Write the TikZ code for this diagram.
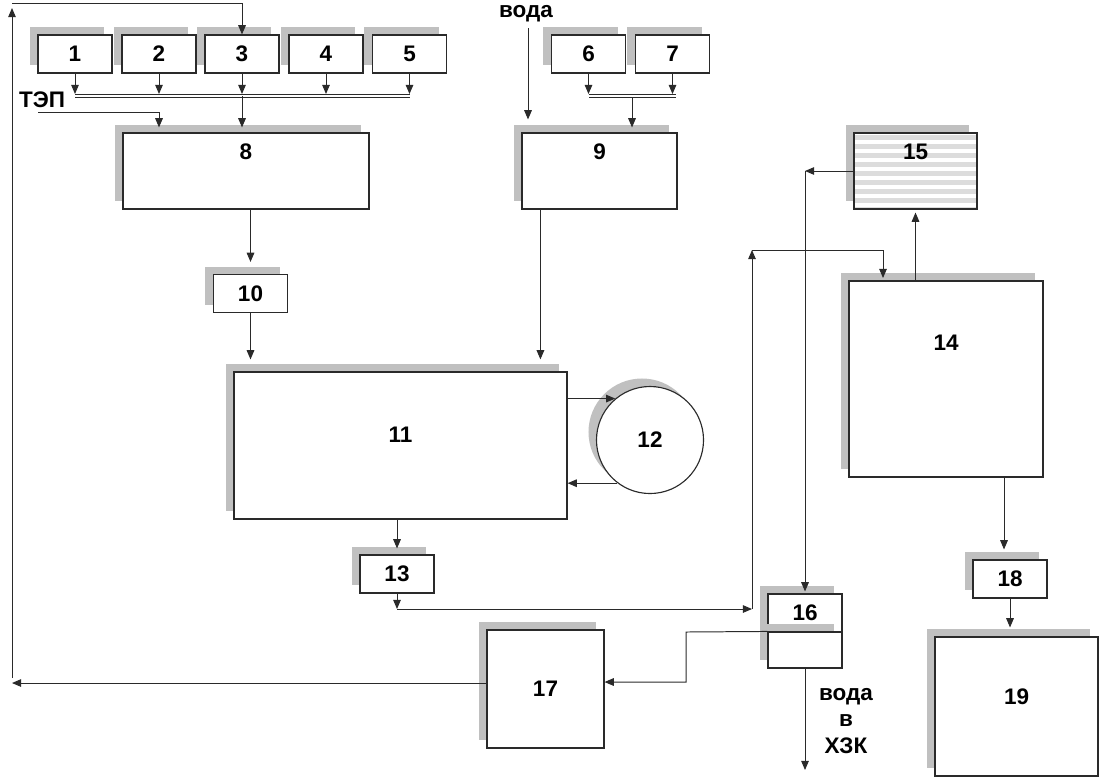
\documentclass[tikz,border=0pt]{standalone}
\usepackage{fontspec}
\setmainfont{Liberation Sans}
\usetikzlibrary{arrows.meta,shadows}

\definecolor{shadowgray}{HTML}{C0C0C0}
\definecolor{stripegray}{HTML}{DCDCDC}
\definecolor{lineclr}{HTML}{2A2A2A}

\tikzset{
  box/.style={draw=lineclr, fill=white, line width=0.8pt, inner sep=0pt,
    general shadow={fill=shadowgray, shadow xshift=-0.2cm, shadow yshift=0.2cm}},
  smallbox/.style={box, minimum width=1.85cm, minimum height=0.95cm},
  arr/.style={draw=lineclr, line width=0.7pt, -{Triangle[length=2.3mm,width=1.9mm]}},
  bus/.style={draw=lineclr, line width=0.4pt, double=white, double distance=0.05cm},
  stripes/.style={path picture={
    \foreach \k in {0,...,8}
      \fill[stripegray] ([yshift={-0.05cm-\k*0.225cm}]path picture bounding box.north west)
        rectangle ([yshift={-0.175cm-\k*0.225cm}]path picture bounding box.north east);}}
}

\begin{document}
\begin{tikzpicture}[x=0.025cm, y=-0.025cm, font=\bfseries\fontsize{16}{19}\selectfont]
        \useasboundingbox (0,0) rectangle (1102,779);

        % Feeders 1-5 and the collecting line
        \node[smallbox] (b1) at (75,54) {1};
        \node[smallbox] (b2) at (159,54) {2};
        \node[smallbox] (b3) at (242,54) {3};
        \node[smallbox] (b4) at (326,54) {4};
        \node[smallbox] (b5) at (409.5,54) {5};
        \coordinate (busA) at (75,96);
        \coordinate (busB) at (409.5,96);
        \draw[bus] (busA) -- (busB);
        \foreach \i in {1,...,5}
          \draw[arr, shorten >=0.05cm] (b\i.south) -- (b\i.south |- busA);

        % Feeders 6-7
        \node[smallbox] (b6) at (588.5,54) {6};
        \node[smallbox] (b7) at (672.5,54) {7};
        \coordinate (busC) at (588.5,96);
        \coordinate (busD) at (676,96);
        \coordinate (busM) at (632,98);
        \draw[bus] (busC) -- (busD);
        \draw[arr, shorten >=0.05cm] (b6.south) -- (b6.south |- busC);
        \draw[arr, shorten >=0.05cm] (b7.south) -- (b7.south |- busD);

        % Mixers 8 and 9
        \node[box, minimum width=6.15cm, minimum height=1.9cm, label={[yshift=0.475cm]center:8}] (b8) at (246,171) {};
        \node[box, minimum width=3.875cm, minimum height=1.9cm, label={[yshift=0.475cm]center:9}] (b9) at (599.5,171) {};
        \draw[arr, shorten >=0.125cm] (b3.south |- busA) -- (b3.south |- b8.north);
        \draw[arr, shorten >=0.125cm] (busM) -- (busM |- b9.north);

        % TEP and water inputs
        \node (tep) at (42,100) {ТЭП};
        \coordinate (tepin) at (38,112);
        \draw[arr, shorten >=0.125cm] (tepin) -- (tepin -| b2.south) -- (b2.south |- b8.north);
        \node (voda) at (526,14) {вода};
        \coordinate (vodain) at (528,28);
        \draw[arr, shorten >=0.325cm] (vodain) -- (vodain |- b9.north);

        % 10, 11, 12, 13
        \node[smallbox] (b10) at (250.5,293.5) {10};
        \node[box, minimum width=8.325cm, minimum height=3.675cm, label={[yshift=0.26cm]center:11}] (b11) at (400.5,445.5) {};
        \node[box, circle, minimum size=2.675cm] (b12) at (650,440) {12};
        \node[smallbox] (b13) at (397,574) {13};
        \draw[arr, shorten >=0.3cm] (b10.north |- b8.south) -- (b10.north);
        \draw[arr, shorten >=0.3cm] (b10.south) -- (b10.south |- b11.north);
        \draw[arr, shorten >=0.3cm] ([xshift=0.475cm]b9.south west) -- ([xshift=0.475cm]b9.south west |- b11.north);
        \draw[arr] (b11.east |- b12.130) -- (b12.130);
        \draw[arr] (b12.233) -- (b12.233 -| b11.east);
        \draw[arr, shorten >=0.15cm] (b13.north |- b11.south) -- (b13.north);

        % 13 to 14
        \node[box, minimum width=4.85cm, minimum height=4.9cm, label={[yshift=0.9cm]center:14}] (b14) at (946,379) {};
        \coordinate (c13) at (397,609);
        \coordinate (rise) at (752,609);
        \coordinate (riseT) at (752,250);
        \coordinate (in14) at (883,281);
        \draw[arr] (b13.south) -- (c13);
        \draw[arr] (c13) -- (rise);
        \draw[arr] (rise) -- (riseT);
        \draw[arr, shorten >=0.075cm] (riseT) -- (riseT -| in14) -- (in14);

        % 15 and 16
        \node[box, stripes, minimum width=3.075cm, minimum height=1.9cm, label={[yshift=0.475cm]center:15}] (b15) at (915.5,171) {};
        \node[smallbox] (b16) at (805,613) {16};
        \node[box, minimum width=1.85cm, minimum height=0.9cm] (b16b) at (805,650) {};
        \draw[arr, shorten >=0.075cm] (b15.south |- b14.north) -- (b15.south);
        \draw[arr] (b15.west) -- (b15.west -| b16.north);
        \draw[arr, shorten >=0.05cm] (b15.west -| b16.north) -- (b16.north);

        % 17 and the return line
        \node[box, minimum width=2.925cm, minimum height=2.95cm] (b17) at (545.5,689) {17};
        \coordinate (c16a) at (686,632);
        \coordinate (c16b) at (686,682);
        \draw[arr] (b16b.north west) -- (c16a) -- (c16b) -- (c16b -| b17.east);
        \coordinate (fbB) at (12,683);
        \coordinate (fbT) at (12,3);
        \draw[arr] (b17.west |- fbB) -- (fbB);
        \draw[arr] ([yshift=0.125cm]fbB) -- ([yshift=-0.125cm]fbT);
        \draw[arr] (fbT) -- (fbT -| b3.north) -- (b3.north);

        % water out
        \coordinate (out16) at (806,770);
        \draw[arr] (b16b.south) -- (b16b.south |- out16);
        \node[align=center] (voda2) at (846,721) {вода\\в\\ХЗК};

        % 18 and 19
        \node[smallbox] (b18) at (1010,579) {18};
        \node[box, minimum width=4.075cm, minimum height=3.475cm, label={[yshift=0.24cm]center:19}] (b19) at (1016.5,706.5) {};
        \draw[arr, shorten >=0.25cm] ([xshift=-0.15cm]b18.north |- b14.south) -- ([xshift=-0.15cm]b18.north);
        \draw[arr, shorten >=0.225cm] (b18.south) -- (b18.south |- b19.north);
\end{tikzpicture}
\end{document}
